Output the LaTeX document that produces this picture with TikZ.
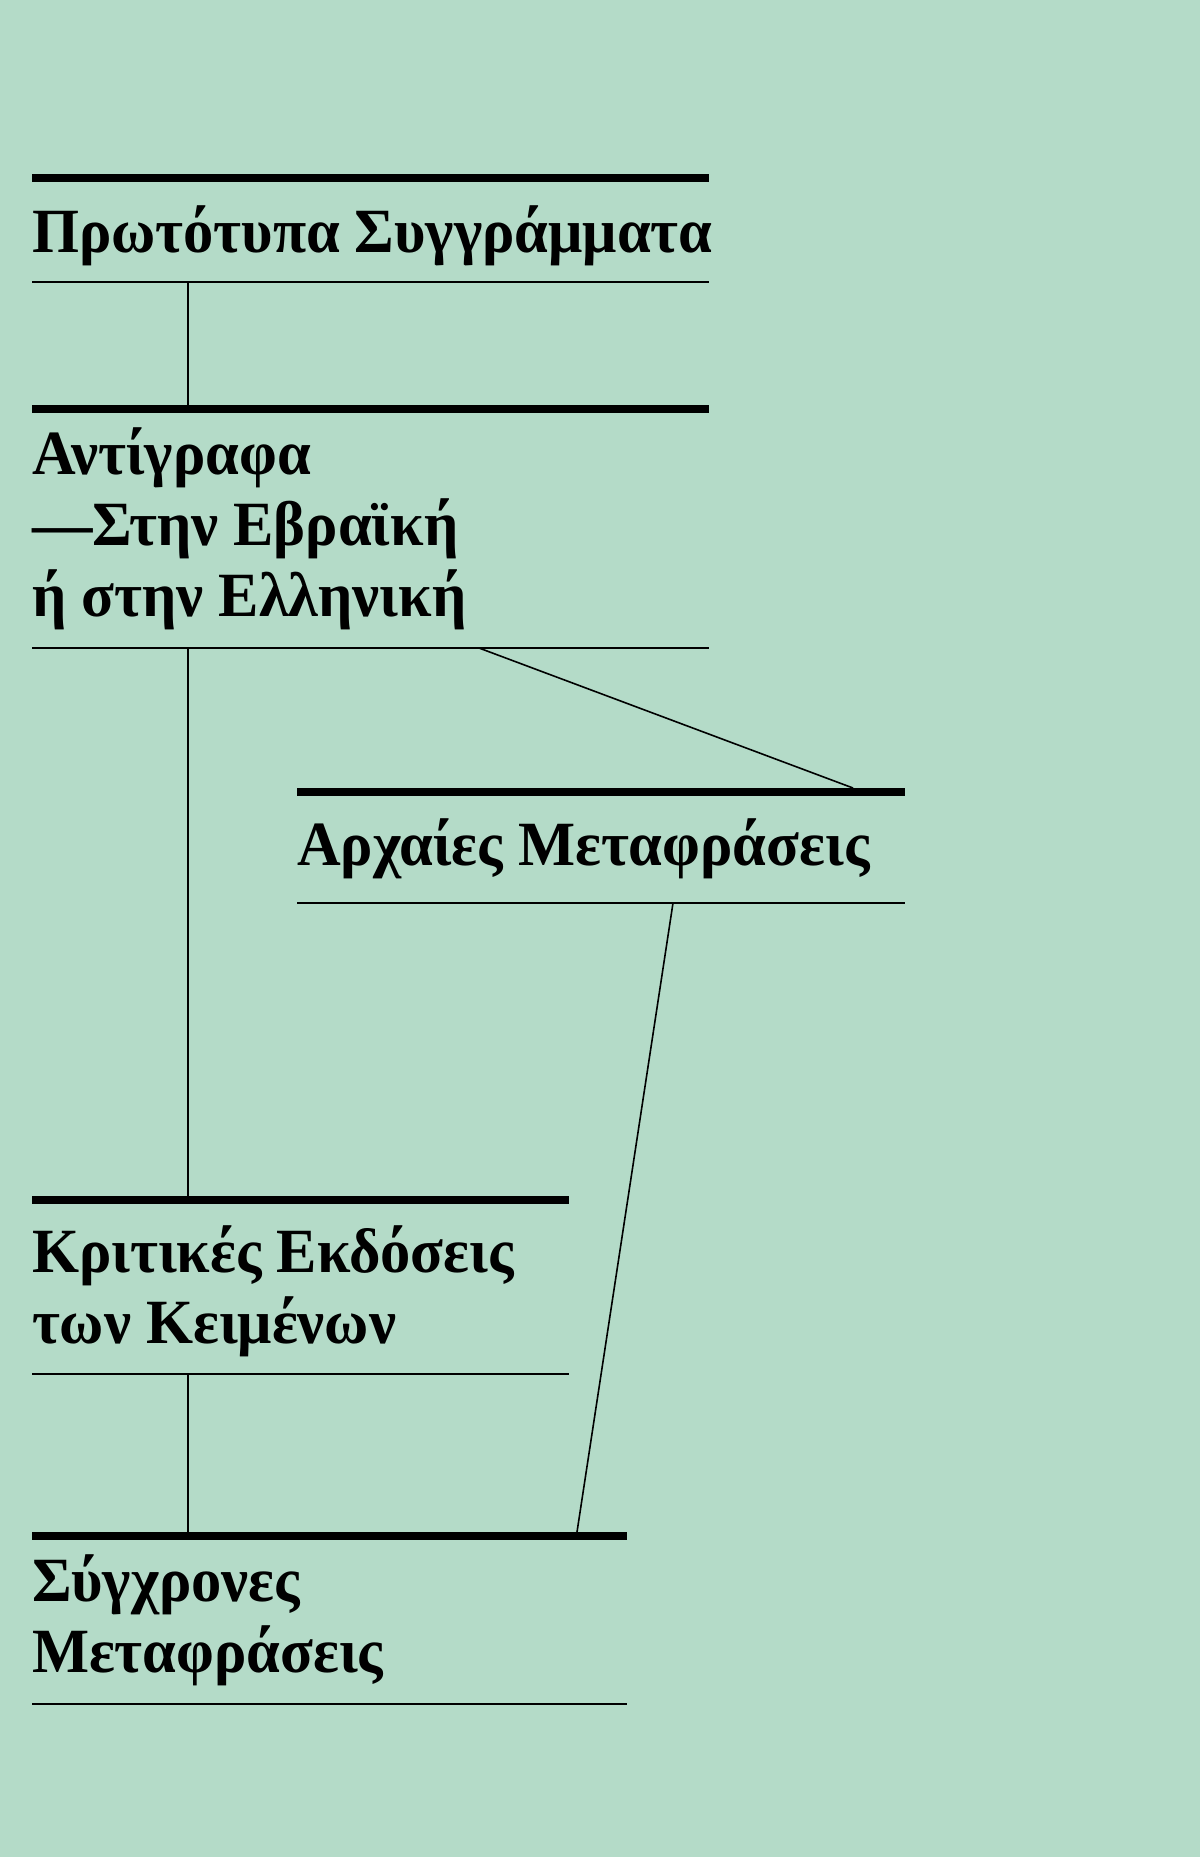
\documentclass[tikz,border=0pt]{standalone}
\usepackage{fontspec}
\setmainfont{Liberation Serif}[BoldFeatures={FakeStretch=0.96}]
\usepackage{tikz}
\definecolor{mt}{RGB}{180, 219, 200}
\usetikzlibrary{positioning}
\newcommand{\txtrows}[1]{\begin{tabular}[t]{@{}l@{}}#1\end{tabular}}

\begin{document}
\begin{tikzpicture}[
slot/.style={rectangle, inner sep=0pt, outer sep=0pt, anchor=north west},
txt/.style={inner sep=0pt, outer sep=0pt, anchor=base west, font=\fontsize{63pt}{71pt}\selectfont\bfseries},
heavy/.style={line width=8pt, color=black},
hair/.style={line width=1.6pt, color=black}]
\useasboundingbox (0pt, 0pt) rectangle (1200pt, -1857pt);
\fill [mt] (0pt, 0pt) rectangle (1200pt, -1857pt);
\node (1) [slot, minimum width=677pt, minimum height=104pt] at (32pt, -178pt) {};
\node (2) [slot, minimum width=677pt, minimum height=239pt] at (32pt, -409pt) {};
\node (3) [slot, minimum width=608pt, minimum height=111pt] at (297pt, -792pt) {};
\node (4) [slot, minimum width=537pt, minimum height=174pt] at (32pt, -1200pt) {};
\node (5) [slot, minimum width=595pt, minimum height=168pt] at (32pt, -1536pt) {};
\node (t1) [txt, yshift=-74pt] at (1.north west) {\txtrows{Πρωτότυπα Συγγράμματα}};
\node (t2) [txt, yshift=-65pt] at (2.north west) {\txtrows{Αντίγραφα\\—Στην Εβραϊκή\\ή στην Ελληνική}};
\node (t3) [txt, yshift=-73pt] at (3.north west) {\txtrows{Αρχαίες Μεταφράσεις}};
\node (t4) [txt, yshift=-72pt] at (4.north west) {\txtrows{Κριτικές Εκδόσεις\\των Κειμένων}};
\node (t5) [txt, yshift=-65pt] at (5.north west) {\txtrows{Σύγχρονες\\Μεταφράσεις}};
\draw [heavy] (1.north west) to (1.north east);
\draw [hair] (1.south west) to (1.south east);
\draw [heavy] (2.north west) to (2.north east);
\draw [hair] (2.south west) to (2.south east);
\draw [heavy] (3.north west) to (3.north east);
\draw [hair] (3.south west) to (3.south east);
\draw [heavy] (4.north west) to (4.north east);
\draw [hair] (4.south west) to (4.south east);
\draw [heavy] (5.north west) to (5.north east);
\draw [hair] (5.south west) to (5.south east);
\draw [hair] ([xshift=156pt]1.south west) to ([xshift=156pt]2.north west);
\draw [hair] ([xshift=156pt]2.south west) to ([xshift=156pt]4.north west);
\draw [hair] ([xshift=447pt]2.south west) to ([xshift=556pt, yshift=4pt]3.north west);
\draw [hair] ([xshift=376pt]3.south west) to ([xshift=545pt, yshift=4pt]5.north west);
\draw [hair] ([xshift=156pt]4.south west) to ([xshift=156pt]5.north west);
\end{tikzpicture}
\end{document}
